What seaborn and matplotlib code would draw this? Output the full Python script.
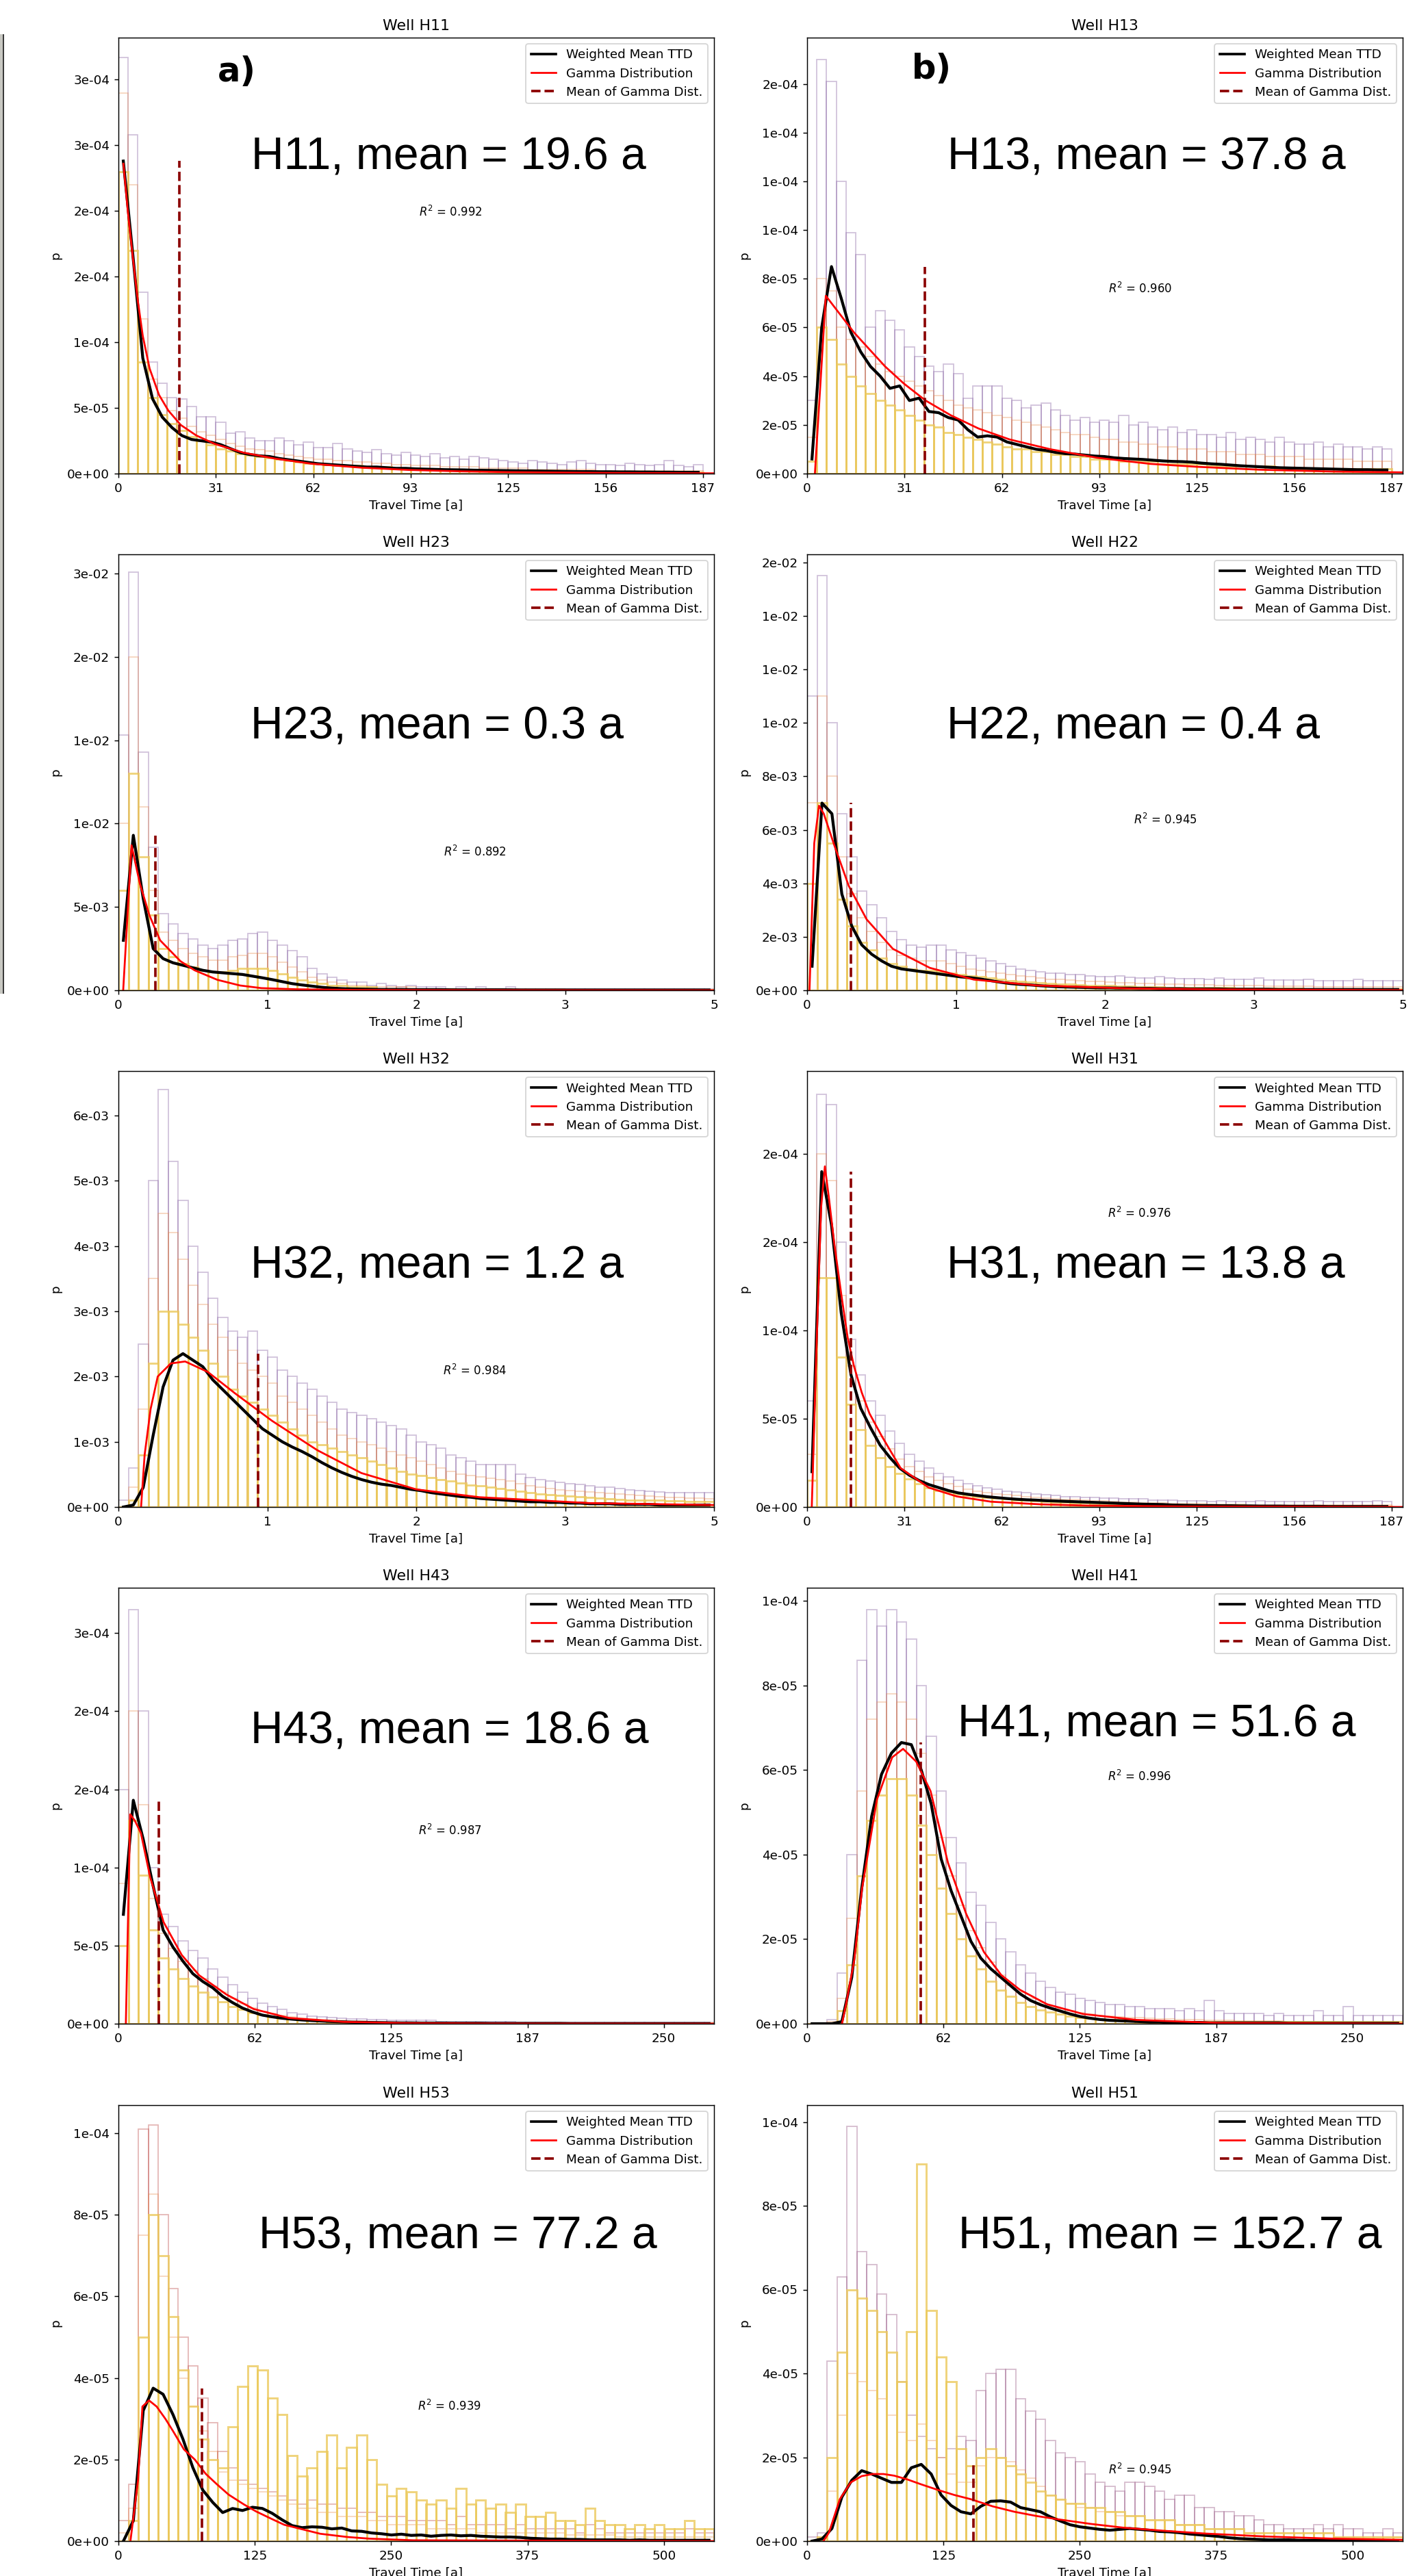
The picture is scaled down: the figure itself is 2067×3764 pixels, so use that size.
import numpy as np
import matplotlib
matplotlib.use("Agg")
import matplotlib.pyplot as plt
from matplotlib.lines import Line2D
from matplotlib.patches import Rectangle
import seaborn as sns

# values. every panel: 60 equal bins from 0 to its x end.
# hi / mid / lo = three of the realisation histograms, mean = weighted mean TTD
# (at bin centres), gx / gy = fitted gamma curve. heights in units of the panel scale.

h11_hi = [317, 258, 138, 85, 69, 58, 57, 51, 43, 43, 39, 31, 32, 27, 25, 25, 27, 25, 22, 24,
          20, 20, 23, 19, 17, 16, 18, 15, 14, 16, 14, 13, 15, 12, 13, 11, 13, 12, 11, 10,
          9, 8, 10, 9, 8, 7, 9, 10, 8, 7, 7, 6, 8, 7, 6, 7, 10, 6, 5, 7]
h11_mid = [290, 220, 118, 72, 58, 48, 42, 36, 32, 29, 26, 23, 21, 19, 18, 17, 15, 14, 13, 12,
           11, 11, 10, 10, 9, 9, 8, 8, 7, 7, 6, 6, 6, 5, 5, 5, 5, 4, 4, 4,
           4, 4, 3, 3, 3, 3, 3, 3, 3, 2, 2, 2, 2, 2, 2, 2, 2, 2, 2, 2]
h11_lo = [230, 170, 85, 58, 45, 38, 33, 28, 25, 22, 19, 17, 15, 14, 13, 12, 11, 10, 9, 8,
          8, 7, 7, 6, 6, 5, 5, 5, 4, 4, 4, 3, 3, 3, 3, 3, 2, 2, 2, 2,
          2, 2, 2, 2, 1, 1, 1, 1, 1, 1, 1, 1, 1, 1, 1, 1, 1, 1, 1, 1]
h11_mean = [238, 165, 88, 57, 43, 35, 29, 26, 25, 24, 22, 19, 16, 14.5, 13.5, 13, 11.5, 10.5, 9.5, 8.5,
            7.5, 7, 6.5, 6, 5.5, 5, 5, 4.5, 4, 4, 3.6, 3.4, 3.2, 3.0, 2.9, 2.8, 2.6, 2.5, 2.4, 2.3,
            2.2, 2.1, 2.0, 1.9, 1.8, 1.7, 1.6, 1.5, 1.5, 1.4, 1.4, 1.3, 1.3, 1.2, 1.2, 1.1, 1.1, 1.0, 1.0, 1.0]
h11_gx = [1.6, 3, 4.7, 6.2, 7.8, 10, 13, 16, 20, 25, 31, 40, 50, 62, 78, 93, 110, 125, 156, 191]
h11_gy = [236, 200, 163, 132, 105, 80, 60, 48, 37, 29, 22.5, 16, 11.5, 7.5, 4.5, 2.8, 1.7, 1.1, 0.5, 0.2]

h13_hi = [30, 170, 161, 120, 99, 90, 60, 67, 63, 59, 52, 48, 44, 42, 45, 41, 31, 36, 36, 36,
          31, 30, 27, 28, 29, 26, 24, 22, 23, 21, 22, 21, 24, 20, 21, 19, 18, 19, 17, 18,
          16, 16, 15, 17, 14, 15, 14, 13, 15, 13, 12, 12, 13, 11, 12, 11, 11, 10, 11, 10]
h13_mid = [15, 80, 75, 60, 55, 52, 48, 45, 42, 40, 38, 36, 34, 32, 30, 28, 27, 26, 25, 24,
           23, 22, 21, 20, 19, 18, 17, 16, 16, 15, 14, 14, 13, 13, 12, 12, 11, 11, 10, 10,
           10, 9, 9, 9, 8, 8, 8, 7, 7, 7, 7, 6, 6, 6, 6, 6, 5, 5, 5, 5]
h13_lo = [5, 60, 55, 45, 40, 36, 33, 30, 28, 26, 24, 22, 20, 19, 17, 16, 15, 14, 13, 12,
          11, 10, 10, 9, 9, 8, 8, 7, 7, 6, 6, 6, 5, 5, 5, 5, 4, 4, 4, 4,
          4, 3, 3, 3, 3, 3, 3, 3, 2, 2, 2, 2, 2, 2, 2, 2, 2, 2, 2, 2]
h13_mean = [6, 60, 85, 72, 58, 50, 44, 40, 35, 36, 30, 31, 25.5, 25, 23, 22, 18, 15, 15.5, 15,
            13, 12, 11, 10, 9.5, 8.7, 8.2, 8, 7.6, 7.2, 7, 6.5, 6.2, 6, 5.8, 5.5, 5.2, 5, 4.9, 4.7,
            4.3, 4, 3.8, 3.5, 3.2, 3, 2.8, 2.6, 2.4, 2.3, 2.2, 2.1, 2, 1.9, 1.8, 1.7, 1.6, 1.6, 1.5, 1.5]
h13_gx = [2.5, 6, 9, 12, 15, 20, 25, 31, 38, 46, 55, 65, 78, 93, 110, 125, 145, 170, 191]
h13_gy = [0, 73, 68, 63, 58, 51, 44, 37, 30, 24, 18.5, 14, 10, 6.5, 4, 2.8, 1.6, 0.8, 0.5]

h23_hi = [153, 251, 143, 86, 46, 40, 34, 31, 27, 25, 27, 30, 31, 34, 35, 30, 27, 24, 20, 13,
          10, 8, 6, 5, 5, 3, 4, 3, 2, 3, 2, 2, 2, 1, 2, 1, 2, 1, 1, 2,
          1, 1, 1, 1, 1, 1, 1, 1, 1, 1, 1, 1, 1, 1, 1, 1, 1, 1, 1, 1]
h23_mid = [100, 200, 110, 60, 35, 30, 25, 22, 20, 18, 18, 20, 21, 22, 22, 20, 17, 14, 11, 8,
           6, 5, 4, 3, 3, 2, 2, 2, 2, 2, 1, 1, 1, 1, 1, 1, 1, 1, 1, 1,
           1, 1, 1, 1, 1, .5, .5, .5, .5, .5, .5, .5, .5, .5, .5, .5, .5, .5, .5, .5]
h23_lo = [60, 130, 80, 45, 25, 20, 16, 14, 12, 11, 11, 12, 13, 13, 13, 12, 10, 8, 6, 5,
          4, 3, 3, 2, 2, 2, 1, 1, 1, 1, 1, 1, 1, 1, .5, .5, .5, .5, .5, .5,
          .5, .5, .5, .5, .5, .5, .5, .5, .5, .5, .5, .5, .5, .5, .5, .5, .5, .5, .5, .5]
h23_mean = [30, 93, 55, 25, 19, 16.5, 15, 13.5, 12, 11, 10.5, 10, 9.5, 8.5, 7.5, 6.4, 5.2, 4, 3.2, 2.5,
            1.8, 1.3, 1, .8, .7, .6, .5, .5, .5, .4, .4, .4, .4, .3, .3, .3, .3, .3, .3, .3,
            .2, .2, .2, .2, .2, .2, .2, .2, .2, .2, .2, .2, .2, .2, .2, .2, .2, .2, .2, .2]
h23_gx = [0.04, 0.11, 0.18, 0.26, 0.35, 0.52, 0.64, 0.83, 1.02, 1.2, 1.5, 2.0, 3.0, 5.0]
h23_gy = [0, 87, 64, 45, 30, 17.5, 12, 6.3, 2.9, 1.3, 0.6, 0.2, 0.05, 0]

h22_hi = [110, 155, 100, 66, 50, 37, 32, 27, 22, 19, 17, 16, 17, 17, 15, 14, 13, 12, 11, 10,
          9, 8, 7.5, 7, 6.5, 6.5, 6, 6, 5.5, 5, 5, 5.5, 4.8, 4.6, 4.6, 5, 4.5, 4.4, 4.4, 4.3,
          4.2, 4.6, 4.1, 4, 4, 4.5, 3.9, 3.9, 3.8, 3.8, 4.2, 3.7, 3.7, 3.7, 3.6, 4, 3.6, 3.6, 3.5, 3.5]
h22_mid = [70, 110, 80, 50, 36, 27, 22, 18, 15, 13, 12, 11, 11, 11, 10, 9, 8, 7.5, 7, 6.5,
           6, 5.5, 5, 4.5, 4.2, 4, 3.8, 3.6, 3.4, 3.2, 3, 2.8, 2.7, 2.6, 2.5, 2.4, 2.3, 2.2, 2.1, 2,
           2, 1.9, 1.8, 1.8, 1.7, 1.7, 1.6, 1.6, 1.5, 1.5, 1.5, 1.4, 1.4, 1.4, 1.3, 1.3, 1.3, 1.2, 1.2, 1.2]
h22_lo = [40, 70, 55, 34, 24, 18, 15, 12, 10, 9, 8, 7.5, 7.5, 7, 6.5, 6, 5.5, 5, 4.5, 4,
          3.7, 3.4, 3.1, 2.8, 2.6, 2.4, 2.2, 2, 1.9, 1.8, 1.7, 1.6, 1.5, 1.4, 1.3, 1.2, 1.1, 1, 1, 1,
          .9, .9, .9, .8, .8, .8, .7, .7, .7, .7, .6, .6, .6, .6, .6, .5, .5, .5, .5, .5]
h22_mean = [9, 70, 66, 36, 24, 17, 13.5, 11, 9, 8, 7.5, 7, 6.5, 6, 5.5, 5, 4.7, 4.2, 3.6, 3,
            2.5, 2.2, 2, 1.7, 1.5, 1.3, 1.2, 1.1, 1, .9, .9, .8, .8, .7, .7, .6, .6, .6, .5, .5,
            .5, .5, .4, .4, .4, .4, .4, .3, .3, .3, .3, .3, .3, .3, .3, .3, .3, .3, .3, .3]
h22_gx = [0.02, 0.06, 0.1, 0.14, 0.23, 0.35, 0.5, 0.72, 1.03, 1.4, 1.93, 2.7, 3.5, 5.0]
h22_gy = [0, 55, 69, 66, 54, 39, 26.5, 15.5, 8.4, 4, 1.8, 0.7, 0.3, 0.05]

h32_hi = [1, 6, 25, 50, 64, 53, 47, 40, 36, 32, 29, 27, 26, 27, 24, 23, 21, 20, 19, 18,
          17, 16, 15, 14.5, 14, 13.5, 13, 12.5, 12, 11, 10, 9.5, 9, 8, 7.5, 7, 6.5, 6.5, 6.5, 6.5,
          5, 4.5, 4.2, 4, 3.8, 3.6, 3.5, 3.3, 3, 3, 2.8, 2.6, 2.5, 2.4, 2.3, 2.2, 2.2, 2.2, 2.2, 2.2]
h32_mid = [0, 3, 15, 35, 45, 42, 38, 34, 31, 28, 26, 24, 22, 21, 20, 19, 17, 16, 15, 14,
           13, 12, 11, 10.5, 10, 9.5, 9, 8.5, 8, 7.5, 7, 6.5, 6, 5.5, 5, 4.8, 4.6, 4.4, 4.2, 4,
           3.6, 3.3, 3, 2.8, 2.6, 2.5, 2.4, 2.3, 2.2, 2.1, 2, 1.9, 1.8, 1.7, 1.6, 1.5, 1.5, 1.4, 1.4, 1.3]
h32_lo = [0, 1, 8, 22, 30, 30, 28, 26, 24, 22, 20, 18, 17, 16, 15, 14, 13, 12, 11, 10,
          9.5, 9, 8.5, 8, 7.5, 7, 6.5, 6, 5.5, 5, 4.8, 4.5, 4.2, 4, 3.7, 3.4, 3.2, 3, 2.8, 2.6,
          2.4, 2.2, 2, 1.9, 1.8, 1.7, 1.6, 1.5, 1.4, 1.3, 1.2, 1.1, 1, 1, 1, .9, .9, .8, .8, .8]
h32_mean = [0, .3, 3, 11, 18.4, 22.5, 23.5, 22.5, 21.5, 19.5, 18, 16.5, 15, 13.5, 12, 11, 10, 9.2, 8.5, 7.7,
            6.8, 6, 5.3, 4.7, 4.2, 3.8, 3.5, 3.3, 3, 2.7, 2.5, 2.2, 2, 1.8, 1.6, 1.5, 1.3, 1.2, 1.1, 1,
            .9, .8, .8, .7, .7, .6, .6, .5, .5, .5, .4, .4, .4, .4, .3, .3, .3, .3, .3, .3]
h32_gx = [0.19, 0.22, 0.27, 0.33, 0.44, 0.56, 0.75, 0.98, 1.29, 1.67, 2.04, 2.5, 3.03, 3.95, 5.0]
h32_gy = [0, 8, 15, 20, 22, 22.3, 20.7, 17.4, 13.2, 8.7, 5.2, 2.7, 1.5, 0.6, 0.3]

h31_hi = [60, 234, 228, 150, 95, 75, 60, 52, 43, 36, 30, 26, 22, 19, 17, 15, 13, 12, 11, 10,
          9, 8.5, 8, 7.5, 7, 6.5, 6, 6, 5.5, 5.5, 5, 5, 4.5, 4.5, 4.5, 4, 4, 4, 3.5, 3.5,
          3.5, 3, 3.5, 3, 3, 3, 3.5, 3, 3, 3, 3, 3, 3.5, 3, 3, 3, 3, 3, 3.5, 3]
h31_mid = [30, 200, 185, 120, 80, 60, 48, 40, 33, 27, 23, 20, 17, 15, 13, 11.5, 10, 9, 8, 7.5,
           7, 6.5, 6, 5.5, 5, 4.7, 4.4, 4.1, 3.8, 3.5, 3.3, 3.1, 2.9, 2.7, 2.5, 2.3, 2.2, 2.1, 2, 1.9,
           1.8, 1.7, 1.6, 1.5, 1.4, 1.3, 1.2, 1.1, 1, 1, 1, 1, 1, 1, 1, 1, 1, 1, 1, 1]
h31_lo = [15, 130, 130, 85, 58, 44, 35, 28, 23, 19, 16, 13, 11, 9.5, 8.5, 7.5, 6.5, 6, 5.5, 5,
          4.5, 4, 3.7, 3.4, 3.1, 2.9, 2.7, 2.5, 2.3, 2.1, 2, 1.9, 1.8, 1.7, 1.6, 1.5, 1.4, 1.3, 1.2, 1.1,
          1, 1, 1, 1, 1, .8, .8, .8, .8, .8, .6, .6, .6, .6, .6, .5, .5, .5, .5, .5]
h31_mean = [20, 190, 160, 110, 75, 56, 45, 35, 28, 22, 18, 15, 12.7, 11, 9.3, 8, 7.2, 6.5, 5.8, 5.3,
            4.8, 4.4, 4.1, 3.9, 3.6, 3.4, 3.2, 3.0, 2.8, 2.6, 2.4, 2.2, 2.0, 1.8, 1.6, 1.5, 1.4, 1.1, 1, .9,
            .8, .8, .7, .7, .6, .6, .5, .5, .5, .4, .4, .4, .4, .3, .3, .3, .3, .3, .3, .3]
h31_gx = [1.5, 3, 4.5, 5.7, 7, 8.8, 11, 13, 15, 17.5, 20, 24, 30, 39, 48, 59, 75, 90, 120, 191]
h31_gy = [0, 90, 170, 193, 175, 148, 120, 96, 80, 65, 53, 40, 22, 11, 6, 3, 1.5, 0.8, 0.3, 0]

h43_hi = [150, 265, 200, 100, 70, 62, 53, 47, 42, 35, 30, 25, 20, 16, 13, 11, 9, 7, 6, 5,
          4.5, 4, 3.5, 3, 3, 2.5, 2.5, 2, 2, 2, 2, 2, 1.5, 1.5, 1.5, 1.5, 1.5, 1.5, 1.5, 1.5,
          1, 1, 1, 1, 1, 1, 1, 1, 1, 1, 1, 1, 1, 1, 1, 1, 1, 1, 1, 1]
h43_mid = [90, 200, 140, 80, 58, 48, 40, 34, 29, 24, 20, 16, 12.5, 10, 8, 6.5, 5.2, 4.2, 3.5, 3,
           2.5, 2.2, 2, 1.8, 1.6, 1.4, 1.2, 1, 1, 1, 1, .8, .8, .8, .6, .6, .6, .5, .5, .5,
           .5, .5, .5, .5, .5, .5, .5, .5, .5, .5, .5, .5, .5, .5, .5, .5, .5, .5, .5, .5]
h43_lo = [50, 130, 95, 60, 42, 35, 29, 24, 20, 17, 14, 11, 9, 7, 5.5, 4.5, 3.5, 3, 2.5, 2,
          1.7, 1.5, 1.2, 1, 1, 1, .8, .8, .6, .6, .5, .5, .5, .5, .5, .5, .5, .5, .5, .5,
          .5, .5, .5, .5, .5, .5, .5, .5, .5, .5, .5, .5, .5, .5, .5, .5, .5, .5, .5, .5]
h43_mean = [70, 143, 118, 88, 60, 49, 40, 32, 27, 23, 17.5, 13.5, 10, 7.5, 5.5, 4.4, 3.5, 2.9, 2.4, 2,
            1.7, 1.4, 1.2, 1, .9, .8, .7, .6, .5, .5, .4, .4, .4, .3, .3, .3, .3, .2, .2, .2,
            .2, .2, .2, .2, .2, .1, .1, .1, .1, .1, .1, .1, .1, .1, .1, .1, .1, .1, .1, .1]
h43_gx = [3.4, 5.4, 7.5, 10.3, 14.5, 20.7, 29, 37, 49.5, 62, 78, 103, 130, 170, 273]
h43_gy = [0, 134, 130, 122, 94, 65, 44, 31, 18.7, 9.4, 3.7, 1.2, 0.4, 0.1, 0]

h41_hi = [0, 0, 1, 12, 40, 86, 98, 94, 98, 95, 91, 80, 68, 55, 44, 38, 31, 28, 24, 20,
          17, 14, 12, 10, 8.5, 7.5, 7, 6, 5.5, 5, 4.5, 4.5, 4, 4, 3.5, 3.5, 3.5, 3, 3.5, 3,
          5.5, 3, 2.5, 2.5, 2.5, 2.5, 2, 2.5, 2, 2, 2, 3, 2, 2, 4, 2, 2, 2, 2, 2]
h41_mid = [0, 0, .5, 6, 25, 55, 72, 76, 78, 76, 72, 64, 54, 44, 35, 28, 22, 18, 14.5, 11.5,
           9, 7.5, 6, 5, 4.2, 3.6, 3, 2.6, 2.2, 2, 1.8, 1.6, 1.5, 1.4, 1.3, 1.2, 1.1, 1, 1, .9,
           .8, .8, .8, .7, .7, .6, .6, .6, .5, .5, .5, .5, .5, .5, .5, .5, .5, .5, .5, .5]
h41_lo = [0, 0, 0, 3, 14, 35, 48, 54, 58, 58, 54, 47, 40, 32, 26, 20, 16, 13, 10, 8,
          6.5, 5, 4, 3.3, 2.7, 2.2, 1.8, 1.5, 1.3, 1.1, 1, .9, .8, .7, .6, .6, .5, .5, .5, .5,
          .5, .5, .5, .5, .5, .5, .5, .5, .5, .5, .5, .5, .5, .5, .5, .5, .5, .5, .5, .5]
h41_mean = [0, 0, 0, .5, 11, 32, 49, 59, 64, 66.5, 66, 60, 52, 39, 31.5, 25.5, 19.5, 15.5, 13, 11,
            9, 7, 5.5, 4.5, 3.7, 3, 2.3, 1.7, 1.3, 1, .8, .7, .6, .5, .4, .4, .3, .3, .3, .3,
            .2, .2, .2, .2, .2, .2, .2, .2, .1, .1, .1, .1, .1, .1, .1, .1, .1, .1, .1, .1]
h41_gx = [16, 18, 21.6, 25.2, 32, 39, 44, 50, 56.6, 64.6, 72.9, 81, 89, 97.6, 110, 126.5, 151, 188, 273]
h41_gy = [0, 5, 15, 32, 53, 63, 65, 62, 55, 38, 26, 17, 11.5, 8, 4.6, 2.3, 0.9, 0.2, 0]

h53_hi = [5, 14, 101, 102, 80, 62, 50, 43, 35, 29, 22, 18, 15, 14, 13, 12, 11, 10, 9, 10,
          9, 9, 8, 8, 7, 7, 6, 6, 6, 5, 5, 5, 5, 4, 6, 4, 4, 4, 4, 3,
          4, 3, 3, 3, 3, 3, 2, 4, 3, 2, 2, 2, 2, 2, 2, 2, 2, 3, 2, 2]
h53_mid = [2, 8, 75, 85, 65, 50, 40, 33, 27, 22, 17, 15, 14, 13, 12, 11, 10, 9, 8, 8,
           7, 7, 6, 6, 6, 5, 5, 4, 4, 4, 4, 3, 3, 3, 3, 3, 2, 2, 2, 2,
           2, 2, 2, 2, 2, 1.5, 1.5, 1.5, 1.5, 1.5, 1, 1, 1, 1, 1, 1, 1, 1, 1, 1]
h53_lo = [0, 5, 50, 80, 70, 55, 42, 33, 25, 20, 18, 28, 38, 43, 42, 35, 31, 21, 16, 18,
          22, 26, 18, 23, 26, 20, 14, 11, 13, 12, 10, 9, 10, 8, 13, 9, 10, 8, 9, 7,
          9, 6, 6, 7, 5, 5, 4, 8, 5, 4, 4, 3, 4, 3, 4, 3, 3, 5, 3, 3]
h53_mean = [0, 5, 32, 37.5, 36, 31, 25, 18, 12.5, 9.5, 7, 8, 7.5, 8.3, 8, 6.8, 5.2, 3.8, 3.3, 3.5,
            3.4, 3.0, 3.2, 2.5, 2.4, 2.0, 1.8, 1.5, 1.7, 1.4, 1.5, 1.2, 1.4, 1.5, 1.3, 1.4, 1.2, 1.1, 1.0, 1.0,
            .9, .7, .6, .5, .5, .4, .4, .3, .3, .3, .3, .2, .3, .2, .2, .2, .2, .2, .2, .2]
h53_gx = [11, 18, 22, 28, 35, 43, 50, 60, 70, 80, 90, 101, 115, 126, 140, 152, 170, 185, 210, 230, 270, 546]
h53_gy = [0, 15, 33, 34.5, 33, 30, 27, 22.5, 20, 16.5, 14, 11.4, 9, 7.3, 5.5, 4, 2.8, 1.8, 1, 0.6, 0.2, 0]

h51_hi = [1, 2, 43, 63, 99, 69, 66, 59, 54, 38, 30, 25, 22, 20, 22, 25, 24, 36, 40, 41,
          41, 34, 31, 29, 24, 21, 20, 19, 16, 14, 13, 12, 14, 14, 13, 12, 10, 11, 11, 8,
          8, 7, 7, 6, 6, 5, 4, 4, 3, 3, 3, 4, 3, 4, 3, 3, 2, 2, 3, 2]
h51_mid = [0, 1, 12, 30, 40, 38, 36, 34, 30, 26, 24, 28, 24, 20, 16, 14, 14, 18, 20, 20,
           19, 17, 15, 13, 11, 10, 9, 8, 8, 7, 7, 6, 6, 6, 5, 5, 5, 4, 4, 4,
           3, 3, 3, 3, 2, 2, 2, 2, 2, 2, 2, 2, 2, 1, 1, 1, 1, 1, 1, 1]
h51_lo = [0, 1, 20, 45, 60, 58, 55, 50, 45, 38, 50, 90, 55, 44, 38, 22, 18, 20, 22, 20,
          18, 16, 14, 12, 11, 10, 9, 9, 8, 8, 7, 7, 6, 6, 5, 5, 5, 4, 4, 4,
          3, 3, 3, 3, 2, 2, 2, 2, 2, 2, 2, 2, 2, 1, 1, 1, 1, 1, 1, 1]
h51_mean = [0, .5, 3, 10.5, 14.5, 16.8, 16, 15, 14, 14, 17.5, 18.3, 16, 11, 8.5, 7, 6.5, 8.3, 9.5, 9.6,
            9.3, 8, 7.5, 7, 5.8, 4.8, 3.9, 3.4, 3.1, 2.8, 2.6, 2.8, 3, 2.8, 2.6, 2.3, 2.2, 2, 1.7, 1.5,
            1.3, 1.1, .8, .6, .5, .4, .3, .3, .3, .2, .2, .2, .2, .2, .1, .1, .1, .1, .1, .1]
h51_gx = [15, 20, 25, 30, 40, 50, 60, 70, 80, 92, 105, 120, 135, 150, 170, 190, 210, 230, 260, 290, 325, 365, 420, 480, 546]
h51_gy = [0, 2, 6, 10, 14, 15.5, 16, 16, 15.6, 14.7, 13.5, 12.2, 11, 10, 8.3, 7, 6, 5.2, 4.1, 3.2, 2.5, 1.8, 1.1, 0.6, 0.3]

wells = ["H11", "H13", "H23", "H22", "H32", "H31", "H43", "H41", "H53", "H51"]
means = [19.6, 37.8, 0.3, 0.4, 1.2, 13.8, 18.6, 51.6, 77.2, 152.7]
mean_line_x = [19.6, 37.8, 0.31, 0.37, 1.17, 14.0, 18.6, 52.0, 76.5, 152.5]
r2 = ["0.992", "0.960", "0.892", "0.945", "0.984", "0.976", "0.987", "0.996", "0.939", "0.945"]
scales = [1e-6, 1e-6, 1e-4, 1e-4, 1e-4, 1e-6, 1e-6, 1e-6, 1e-6, 1e-6]
x_end = [187.5, 187.5, 5, 5, 5, 187.5, 273, 273, 546, 546]
x_max = [191, 191, 5, 5, 5, 191, 273, 273, 546, 546]
y_max = [3.32e-4, 1.79e-4, 0.02616, 0.0163, 6.68e-3, 2.47e-4, 2.79e-4, 1.031e-4, 1.069e-4, 1.04e-4]

xt_188 = ([0, 31.25, 62.5, 93.75, 125, 156.25, 187.5], ["0", "31", "62", "93", "125", "156", "187"])
xt_5 = ([0, 1.25, 2.5, 3.75, 5], ["0", "1", "2", "3", "5"])
xt_273 = ([0, 62.5, 125, 187.5, 250], ["0", "62", "125", "187", "250"])
xt_546 = ([0, 125, 250, 375, 500], ["0", "125", "250", "375", "500"])
x_ticks = [xt_188, xt_188, xt_5, xt_5, xt_5, xt_188, xt_273, xt_273, xt_546, xt_546]

yt_a = ([0, 5e-5, 1e-4, 1.5e-4, 2e-4, 2.5e-4, 3e-4], ["0e+00", "5e-05", "1e-04", "2e-04", "2e-04", "3e-04", "3e-04"])
yt_b = ([0, 2e-5, 4e-5, 6e-5, 8e-5, 1e-4, 1.2e-4, 1.4e-4, 1.6e-4],
        ["0e+00", "2e-05", "4e-05", "6e-05", "8e-05", "1e-04", "1e-04", "1e-04", "2e-04"])
yt_c = ([0, 0.005, 0.01, 0.015, 0.02, 0.025], ["0e+00", "5e-03", "1e-02", "1e-02", "2e-02", "3e-02"])
yt_d = ([0, 0.002, 0.004, 0.006, 0.008, 0.01, 0.012, 0.014, 0.016],
        ["0e+00", "2e-03", "4e-03", "6e-03", "8e-03", "1e-02", "1e-02", "1e-02", "2e-02"])
yt_e = ([0, 1e-3, 2e-3, 3e-3, 4e-3, 5e-3, 6e-3], ["0e+00", "1e-03", "2e-03", "3e-03", "4e-03", "5e-03", "6e-03"])
yt_f = ([0, 5e-5, 1e-4, 1.5e-4, 2e-4], ["0e+00", "5e-05", "1e-04", "2e-04", "2e-04"])
yt_g = ([0, 5e-5, 1e-4, 1.5e-4, 2e-4, 2.5e-4], ["0e+00", "5e-05", "1e-04", "2e-04", "2e-04", "3e-04"])
yt_h = ([0, 2e-5, 4e-5, 6e-5, 8e-5, 1e-4], ["0e+00", "2e-05", "4e-05", "6e-05", "8e-05", "1e-04"])
y_ticks = [yt_a, yt_b, yt_c, yt_d, yt_e, yt_f, yt_g, yt_h, yt_h, yt_h]

hist_hi = [h11_hi, h13_hi, h23_hi, h22_hi, h32_hi, h31_hi, h43_hi, h41_hi, h53_hi, h51_hi]
hist_mid = [h11_mid, h13_mid, h23_mid, h22_mid, h32_mid, h31_mid, h43_mid, h41_mid, h53_mid, h51_mid]
hist_lo = [h11_lo, h13_lo, h23_lo, h22_lo, h32_lo, h31_lo, h43_lo, h41_lo, h53_lo, h51_lo]
ttd_mean = [h11_mean, h13_mean, h23_mean, h22_mean, h32_mean, h31_mean, h43_mean, h41_mean, h53_mean, h51_mean]
gamma_x = [h11_gx, h13_gx, h23_gx, h22_gx, h32_gx, h31_gx, h43_gx, h41_gx, h53_gx, h51_gx]
gamma_y = [h11_gy, h13_gy, h23_gy, h22_gy, h32_gy, h31_gy, h43_gy, h41_gy, h53_gy, h51_gy]

# layout in pixels of the 2067 x 3764 picture
W, H = 2067, 3764
DPI = 132
col_left = [173, 1179]
row_top = [55, 810, 1565, 2320, 3076]
ax_w, ax_h = 870, 637
r2_xy = [(658, 310), (1666, 422), (694, 1245), (1702, 1198), (694, 2003),
         (1664, 1773), (657, 2675), (1664, 2596), (656, 3516), (1665, 3609)]
big_xy = [(367, 230), (1384, 230), (366, 1063), (1383, 1063), (366, 1850),
          (1383, 1850), (366, 2531), (1399, 2520), (378, 3268), (1400, 3268)]

fig = plt.figure(figsize=(W / DPI, H / DPI), dpi=DPI)

hi_colors = ["#8e6aa8"] * 8 + ["#c0504d", "#9a5a86"]
legend_handles = [
    Line2D([], [], color="black", lw=2, label="Weighted Mean TTD"),
    Line2D([], [], color="red", lw=1.5, label="Gamma Distribution"),
    Line2D([], [], color="#8b0000", lw=2, ls="--", label="Mean of Gamma Dist."),
]

for i, well in enumerate(wells):
    col, row = i % 2, i // 2
    ax = fig.add_axes([col_left[col] / W, 1 - (row_top[row] + ax_h) / H, ax_w / W, ax_h / H])
    sc = scales[i]
    nb = len(hist_hi[i])
    edges = np.linspace(0, x_end[i], nb + 1)
    centers = (edges[:-1] + edges[1:]) / 2

    # faint outlines first, the pale yellow realisation on top
    layers = [(hist_hi[i], hi_colors[i], 0.4, 1.0),
              (hist_mid[i], "#e8894a", 0.35, 1.0),
              (hist_lo[i], "#ecca5c", 0.8, 1.6)]
    for vals, c, a, lw in layers:
        sns.histplot(x=centers, weights=np.asarray(vals, dtype=float) * sc, bins=nb,
                     binrange=(0, x_end[i]), element="bars", fill=False, color=c,
                     alpha=a, linewidth=lw, ax=ax)

    mean_vals = np.asarray(ttd_mean[i], dtype=float) * sc
    sns.lineplot(x=centers, y=mean_vals, color="black", linewidth=2.3, ax=ax)
    sns.lineplot(x=gamma_x[i], y=np.asarray(gamma_y[i], dtype=float) * sc, color="red",
                 linewidth=1.5, ax=ax)
    ax.vlines(mean_line_x[i], 0, mean_vals.max(), colors="#8b0000", linestyles="--", linewidth=2)

    ax.set_xlim(0, x_max[i])
    ax.set_ylim(0, y_max[i])
    ax.set_xticks(x_ticks[i][0], x_ticks[i][1])
    ax.set_yticks(y_ticks[i][0], y_ticks[i][1])
    ax.set_title(f"Well {well}")
    ax.set_xlabel("Travel Time [a]")
    ax.set_ylabel("p")
    ax.legend(handles=legend_handles, loc="upper right")

    rx, ry = r2_xy[i]
    fig.text(rx / W, 1 - ry / H, f"$R^2$ = {r2[i]}", ha="center", va="center", fontsize=9)
    bx, by = big_xy[i]
    fig.text(bx / W, 1 - by / H, f"{well}, mean = {means[i]} a", fontsize=36,
             family=["Liberation Sans", "DejaVu Sans"], ha="left", va="center")

fig.text(318 / W, 1 - 105 / H, "a)", fontsize=27, fontweight="bold", ha="left", va="center")
fig.text(1332 / W, 1 - 101 / H, "b)", fontsize=27, fontweight="bold", ha="left", va="center")

# sliver of a neighbouring image along the left edge
fig.patches.append(Rectangle((0, 1 - 1452 / H), 4 / W, (1452 - 50) / H, transform=fig.transFigure,
                             facecolor="#c8c8c2", edgecolor="none"))
fig.patches.append(Rectangle((4 / W, 1 - 1452 / H), 2 / W, (1452 - 50) / H, transform=fig.transFigure,
                             facecolor="#3a3a3a", edgecolor="none"))

fig.savefig("out.png", dpi=DPI)
